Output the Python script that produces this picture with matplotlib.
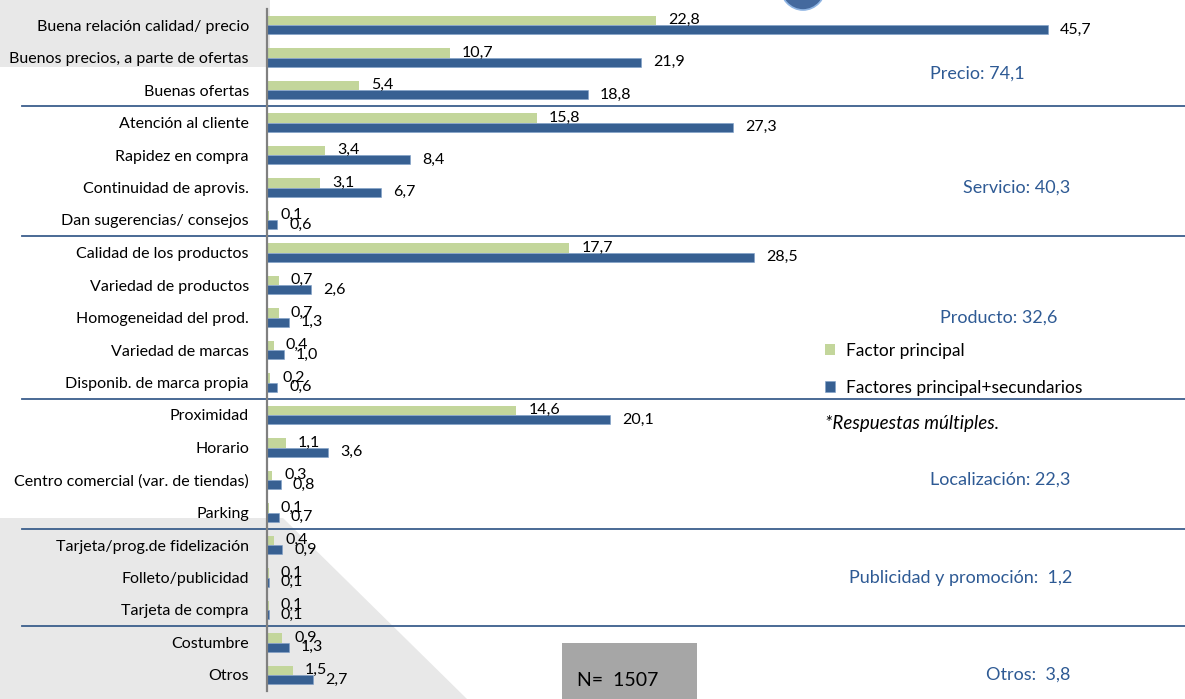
import matplotlib
matplotlib.use("Agg")
import matplotlib.pyplot as plt
from matplotlib.patches import Polygon, Rectangle, Ellipse
from matplotlib.transforms import blended_transform_factory

plt.rcParams["font.family"] = ["Lato", "DejaVu Sans"]

# data
categories = [
    "Buena relación calidad/ precio",
    "Buenos precios, a parte de ofertas",
    "Buenas ofertas",
    "Atención al cliente",
    "Rapidez en compra",
    "Continuidad de aprovis.",
    "Dan sugerencias/ consejos",
    "Calidad de los productos",
    "Variedad de productos",
    "Homogeneidad del prod.",
    "Variedad de marcas",
    "Disponib. de marca propia",
    "Proximidad",
    "Horario",
    "Centro comercial (var. de tiendas)",
    "Parking",
    "Tarjeta/prog.de fidelización",
    "Folleto/publicidad",
    "Tarjeta de compra",
    "Costumbre",
    "Otros",
]
factor_principal = [22.8, 10.7, 5.4, 15.8, 3.4, 3.1, 0.1, 17.7, 0.7, 0.7, 0.4,
                    0.2, 14.6, 1.1, 0.3, 0.1, 0.4, 0.1, 0.1, 0.9, 1.5]
factores_total = [45.7, 21.9, 18.8, 27.3, 8.4, 6.7, 0.6, 28.5, 2.6, 1.3, 1.0,
                  0.6, 20.1, 3.6, 0.8, 0.7, 0.9, 0.1, 0.1, 1.3, 2.7]
group_labels = ["Precio: 74,1", "Servicio: 40,3", "Producto: 32,6",
                "Localización: 22,3", "Publicidad y promoción:  1,2",
                "Otros:  3,8"]
group_sizes = [3, 4, 5, 4, 3, 2]
legend_labels = ["Factor principal", "Factores principal+secundarios"]
sample_text = "N=  1507"

# layout (pixels of the 1185x699 image)
W, H = 1185, 699
group_label_right = [1025, 1070, 1057, 1070, 1072, 1070]
group_label_row = [1.5, 5, 9, 14, 17, 20]

GREEN = "#c3d69b"
BLUE = "#376092"
TEXT_BLUE = "#2e5a94"
LINE_BLUE = "#3b5e8c"
GRAY_BG = "#e8e8e8"


def fx(px):
    return px / W


def fy(py):
    return 1 - py / H


fig = plt.figure(figsize=(W / 100, H / 100), dpi=100)

# light gray background shapes
fig.patches.append(Polygon([(fx(0), fy(518)), (fx(283), fy(518)),
                            (fx(467), fy(699)), (fx(0), fy(699))],
                           closed=True, transform=fig.transFigure,
                           facecolor=GRAY_BG, edgecolor="none", zorder=0))
fig.patches.append(Rectangle((fx(0), fy(67)), fx(270), 67 / H,
                             transform=fig.transFigure, facecolor=GRAY_BG,
                             edgecolor="none", zorder=0))
# cut-off logo at the top
fig.patches.append(Ellipse((fx(803), fy(-15)), 46 / W, 50 / H,
                           transform=fig.transFigure, facecolor="#44699e",
                           edgecolor="#8eb4e3", linewidth=1.2, zorder=0))

row_px = 32.5
ax = fig.add_axes([fx(267), fy(675 + row_px / 2), (W - 267) / W,
                   (650 + row_px) / H])
ax.set_facecolor("none")
ax.set_zorder(2)

n = len(categories)
rows = list(range(n))
h = 0.29
bg = ax.barh([r - h / 2 for r in rows], factor_principal, height=h,
             color=GREEN, label=legend_labels[0])
bb = ax.barh([r + h / 2 for r in rows], factores_total, height=h,
             color=BLUE, edgecolor="#7f9fc8", linewidth=0.4,
             label=legend_labels[1])

ax.set_xlim(0, (W - 267) / 17.08)
ax.set_ylim(n - 0.5, -0.5)
ax.set_yticks(rows)
ax.set_yticklabels(categories, fontsize=11.5)
ax.tick_params(axis="y", length=0, pad=13)
ax.set_xticks([])
for s in ["top", "right", "bottom"]:
    ax.spines[s].set_visible(False)
ax.spines["left"].set_color("#808080")
ax.spines["left"].set_linewidth(1.6)


def fmt(v):
    return f"{v:.1f}".replace(".", ",")


for r in rows:
    ax.annotate(fmt(factor_principal[r]), (factor_principal[r], r - h / 2),
                xytext=(8.6, 0), textcoords="offset points",
                ha="left", va="center", fontsize=11.5)
    ax.annotate(fmt(factores_total[r]), (factores_total[r], r + h / 2),
                xytext=(8.6, 0), textcoords="offset points",
                ha="left", va="center", fontsize=11.5)

# group separators and group totals
tr = blended_transform_factory(fig.transFigure, ax.transData)
edge = -0.5
for size in group_sizes[:-1]:
    edge += size
    ax.plot([fx(22), 1], [edge, edge], transform=tr, color=LINE_BLUE,
            linewidth=1.3, clip_on=False)
for label, xr, yr in zip(group_labels, group_label_right, group_label_row):
    ax.text(fx(xr), yr, label, transform=tr, ha="right", va="center",
            fontsize=13, color=TEXT_BLUE)

ax.legend(handles=[bg, bb], labels=legend_labels, loc="upper left",
          bbox_to_anchor=(fx(825), fy(343)), bbox_transform=fig.transFigure,
          frameon=False, fontsize=12.5, handlelength=0.6, handleheight=0.6,
          labelspacing=1.2, handletextpad=0.6, borderaxespad=0,
          borderpad=0)
fig.text(fx(825), fy(424), "*Respuestas múltiples.", fontsize=13.5,
         style="italic", va="center", ha="left", zorder=4)

# sample size box
fig.patches.append(Rectangle((fx(562), fy(705)), 135 / W, 62 / H,
                             transform=fig.transFigure, facecolor="#a6a6a6",
                             edgecolor="none", zorder=3))
fig.text(fx(577), fy(680), sample_text, fontsize=14, va="center",
         ha="left", zorder=4)

fig.savefig("out.png", dpi=100)
plt.close(fig)
